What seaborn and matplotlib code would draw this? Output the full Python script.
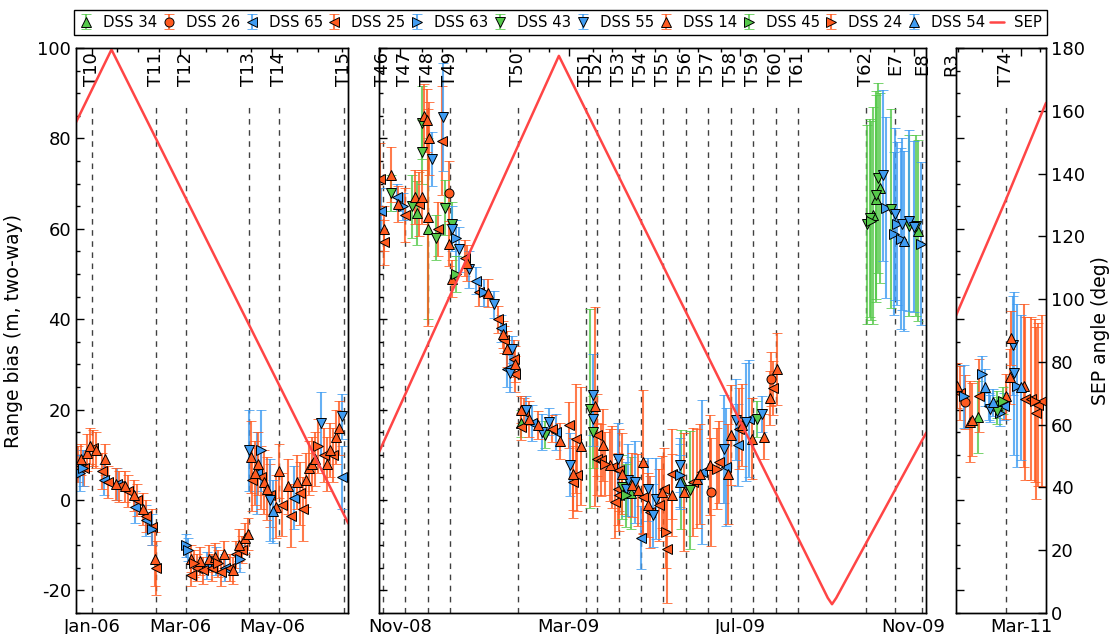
import numpy as np
import pandas as pd
import matplotlib
matplotlib.use("Agg")
import matplotlib.pyplot as plt
import matplotlib.dates as mdates
import matplotlib.transforms as mtransforms
from matplotlib.ticker import MultipleLocator, FixedLocator
import seaborn as sns

sns.set_style("white")
plt.rcParams.update({
    "font.family": ["DejaVu Sans"],
    "axes.unicode_minus": False,
    "xtick.direction": "in", "ytick.direction": "in",
    "axes.edgecolor": "black", "axes.linewidth": 1.0,
    "xtick.color": "black", "ytick.color": "black",
    "text.color": "black", "axes.labelcolor": "black",
})

# ------------------------------------------------------------------ data
# DSS 34 (green, triangle up)
dss34_dates = ['2008-11-27', '2008-12-05', '2009-02-09', '2009-04-28', '2009-06-03',
               '2009-10-17', '2009-10-19', '2009-10-22', '2009-11-18', '2011-01-29', '2011-02-12']
dss34_bias = [63.5, 60.0, 17.0, 1.5, 4.5, 63.0, 66.7, 69.1, 59.6, 18.4, 21.1]
dss34_err = [7, 20, 3, 8, 11, 24, 23, 21, 20, 8, 3]

# DSS 26 (orange, circle)
dss26_dates = ['2008-12-20', '2009-06-24', '2009-08-06', '2011-01-20']
dss26_bias = [68.0, 1.8, 26.7, 21.6]
dss26_err = [7, 12, 6, 6]

# DSS 65 (blue, triangle left)
dss65_dates = ['2006-01-23', '2006-02-01', '2006-02-13', '2006-02-20', '2006-04-02', '2006-04-14',
               '2006-05-05', '2006-05-30', '2006-07-01',
               '2008-11-02', '2008-11-13', '2009-01-08', '2009-01-26', '2009-01-30', '2009-02-17',
               '2009-03-06', '2009-05-05', '2009-06-18', '2009-07-05', '2009-07-13', '2009-07-21',
               '2011-02-06', '2011-02-17']
dss65_bias = [4.5, 3.5, -1.5, -4.5, -14.5, -15.0, 6.0, 0.5, 5.0,
              64.0, 67.0, 48.5, 38.0, 29.0, 17.0, 15.1, -8.3, 6.2, 7.3, 12.2, 18.0,
              20.7, 20.7]
dss65_err = [3.5, 3.5, 3.5, 3.5, 3, 3, 9, 7, 7,
             5, 3, 3, 3, 4, 4, 4, 7, 16, 13, 9, 13,
             3, 3]

# DSS 25 (orange, triangle left)
dss25_dates = ['2006-01-06', '2006-01-10', '2006-01-16', '2006-01-22', '2006-01-26', '2006-02-02',
               '2006-02-08', '2006-02-14', '2006-02-20', '2006-02-24', '2006-02-27', '2006-03-22',
               '2006-03-26', '2006-03-30', '2006-04-05', '2006-04-11', '2006-04-17', '2006-04-21',
               '2006-04-25', '2006-05-02', '2006-05-08', '2006-05-14', '2006-05-22', '2006-05-28',
               '2006-06-03', '2006-06-05', '2006-06-19', '2006-06-25',
               '2008-11-01', '2008-11-04', '2008-11-19', '2008-11-29', '2008-12-12', '2008-12-15',
               '2008-12-31', '2009-01-10', '2009-01-24', '2009-01-28', '2009-02-04', '2009-02-05',
               '2009-02-09', '2009-02-11', '2009-03-03', '2009-03-15', '2009-03-18', '2009-03-20',
               '2009-03-21', '2009-04-04', '2009-04-04', '2009-04-07', '2009-04-15', '2009-04-17',
               '2009-04-19', '2009-04-20', '2009-04-20', '2009-05-07', '2009-05-12', '2009-05-18',
               '2009-05-22', '2009-05-24', '2009-05-27', '2009-06-11', '2009-06-30', '2009-07-14',
               '2009-08-07',
               '2011-01-16', '2011-01-30', '2011-03-04', '2011-03-08', '2011-03-12', '2011-03-13',
               '2011-03-16']
dss25_bias = [8.0, 7.0, 11.5, 6.5, 4.0, 3.0, 2.0, 0.0, -3.5, -6.0, -15.0, -16.5,
              -15.0, -15.5, -15.0, -16.0, -15.0, -12.0, -11.0, 4.5, 5.0, 1.0, -1.0, -3.5,
              1.5, -2.0, 10.0, 10.0,
              71.0, 57.0, 63.0, 65.5, 60.0, 79.5, 53.5, 46.0, 40.0, 35.5, 31.3, 27.8,
              16.2, 19.5, 15.8, 16.6, 4.0, 13.6, 5.5, 14.4, 9.0, 8.8, 7.3, -0.4,
              2.4, 6.6, 1.1, 0.6, -2.7, -1.1, 2.4, -10.8, 5.8, 4.0, 8.4, 15.8, 24.7,
              23.6, 23.1, 22.4, 22.4, 19.3, 21.1, 22.0]
dss25_err = [4, 4, 4, 4, 3.5, 3.5, 3.5, 3.5, 3.5, 4, 6, 2.5,
             3, 3, 3, 3, 3, 3, 3, 7, 7, 7, 7, 7,
             7, 7, 6, 6,
             8, 5, 6, 7, 6, 12, 4, 3, 3, 3, 4, 4,
             3, 3, 3, 5, 8, 12, 8, 9, 8, 8, 9, 8,
             8, 9, 8, 8, 8, 8, 9, 12, 10, 12, 9, 9, 6,
             6, 8, 18, 18, 19, 18, 19]

# DSS 63 (blue, triangle right)
dss63_dates = ['2006-01-07', '2006-01-09', '2006-02-24', '2006-03-19', '2006-03-20', '2006-04-08',
               '2006-04-24', '2006-05-08',
               '2008-11-17', '2008-12-25', '2009-01-14', '2009-06-02', '2009-10-26', '2009-11-01',
               '2009-11-03', '2009-11-06', '2009-11-20',
               '2011-01-19', '2011-02-01', '2011-02-14', '2011-02-26']
dss63_bias = [6.0, 7.0, -6.5, -10.0, -11.0, -13.5, -13.0, 11.0,
              65.0, 58.0, 46.0, 5.5, 64.7, 58.9, 61.1, 57.8, 56.7,
              22.9, 27.8, 19.3, 25.3]
dss63_err = [4, 4, 3.5, 2.5, 2.5, 3, 3, 9,
             3, 4, 3, 7, 20, 18, 18, 20, 18,
             7, 4, 3, 18]

# DSS 43 (green, triangle down)
dss43_dates = ['2008-11-09', '2008-11-24', '2008-12-01', '2008-12-01', '2008-12-11', '2008-12-17',
               '2008-12-22', '2009-02-26', '2009-03-30', '2009-04-01', '2009-04-22', '2009-06-09',
               '2009-07-27', '2009-10-13', '2009-10-15', '2009-10-19', '2009-10-21', '2009-10-30',
               '2009-11-12', '2009-11-17', '2011-02-12']
dss43_bias = [68.0, 65.0, 83.5, 77.0, 58.0, 64.7, 61.0, 14.4, 20.2, 15.0, 2.9, 2.2,
              18.0, 61.0, 62.4, 67.5, 71.3, 64.4, 60.7, 60.7, 19.8]
dss43_err = [4, 7, 8, 7, 5, 6, 5, 3, 22, 8, 7, 13,
             4, 22, 22, 23, 21, 22, 20, 20, 3]

# DSS 55 (blue, triangle down)
dss55_dates = ['2006-04-30', '2006-05-14', '2006-06-17', '2006-07-01',
               '2008-12-08', '2008-12-16', '2008-12-22', '2008-12-27', '2009-01-03', '2009-01-21',
               '2009-02-01', '2009-02-03', '2009-02-13', '2009-02-24', '2009-03-01', '2009-03-16',
               '2009-04-01', '2009-04-01', '2009-04-19', '2009-04-25', '2009-04-26', '2009-05-01',
               '2009-05-10', '2009-05-14', '2009-05-16', '2009-06-02', '2009-07-03', '2009-07-12',
               '2009-07-19', '2009-07-30', '2009-10-24', '2009-11-02', '2009-11-07', '2009-11-12',
               '2009-11-15',
               '2011-02-07', '2011-02-23', '2011-02-24']
dss55_bias = [11.0, 0.0, 17.0, 18.5,
              75.5, 84.7, 60.0, 55.5, 51.0, 43.3, 28.0, 33.3, 20.0, 15.0, 17.3, 7.8,
              23.3, 18.0, 9.0, 2.4, 4.4, 4.0, 2.4, -3.4, 0.3, 7.7, 11.3, 17.8,
              17.3, 19.0, 71.8, 63.3, 61.1, 61.8, 60.5,
              20.2, 34.2, 28.0]
dss55_err = [9, 9, 7, 5,
             6, 12, 5, 5, 4, 3, 4, 3, 3, 4, 3, 7,
             9, 6, 8, 6, 8, 9, 7, 7, 9, 6, 12, 9,
             13, 4, 19, 19, 19, 20, 19,
             3, 11, 18]

# DSS 14 (orange, triangle up)
dss14_dates = ['2006-01-08', '2006-01-12', '2006-01-14', '2006-01-18', '2006-01-24', '2006-01-31',
               '2006-02-06', '2006-02-12', '2006-02-18', '2006-02-26', '2006-03-22', '2006-03-28',
               '2006-04-03', '2006-04-07', '2006-04-13', '2006-04-19', '2006-04-23', '2006-04-27',
               '2006-04-29', '2006-05-01', '2006-05-04', '2006-05-06', '2006-05-10', '2006-05-12',
               '2006-05-18', '2006-05-20', '2006-05-26', '2006-06-01', '2006-06-07', '2006-06-09',
               '2006-06-11', '2006-06-13', '2006-06-21', '2006-06-23', '2006-06-27', '2006-06-29',
               '2008-11-04', '2008-11-09', '2008-11-14', '2008-11-26', '2008-12-01', '2008-12-02',
               '2008-12-04', '2008-12-05', '2008-12-06', '2008-12-20', '2008-12-22', '2009-01-02',
               '2009-01-17', '2009-01-27', '2009-01-30', '2009-02-05', '2009-02-09', '2009-02-15',
               '2009-02-21', '2009-03-09', '2009-03-18', '2009-03-24', '2009-04-03', '2009-04-08',
               '2009-04-13', '2009-04-22', '2009-04-29', '2009-05-03', '2009-05-07', '2009-05-10',
               '2009-05-20', '2009-05-27', '2009-06-05', '2009-06-14', '2009-06-16', '2009-06-23',
               '2009-07-06', '2009-07-08', '2009-07-16', '2009-07-23', '2009-08-01', '2009-08-05',
               '2009-08-10',
               '2011-01-14', '2011-01-23', '2011-01-25', '2011-02-18', '2011-02-21', '2011-02-22',
               '2011-03-03']
dss14_bias = [9.0, 10.5, 12.0, 11.0, 9.0, 3.5, 3.0, 1.0, -2.0, -13.0, -13.0, -13.5,
              -13.0, -12.5, -12.0, -15.5, -10.0, -8.5, -7.5, 9.5, 6.0, 8.0, 4.0, 2.5,
              -1.5, 6.5, 3.0, 4.0, 4.5, 7.0, 8.0, 9.0, 8.0, 11.0, 14.0, 16.0,
              60.0, 72.0, 65.5, 67.0, 67.0, 85.0, 84.0, 62.5, 80.0, 56.7, 49.0, 52.5,
              45.8, 36.7, 33.5, 30.0, 20.0, 18.0, 16.6, 13.0, 5.8, 12.0, 20.7, 12.2,
              7.7, 5.8, 3.3, 2.2, 8.4, -1.1, 1.8, 1.1, 1.8, 4.7, 5.8, 7.7,
              5.8, 14.4, 16.6, 13.6, 14.0, 22.5, 29.0,
              25.3, 17.3, 17.8, 22.9, 27.3, 35.8, 25.3]
dss14_err = [3.5, 4, 4, 4, 3.5, 3.5, 3.5, 3.5, 3.5, 6, 3, 3,
             3, 3, 3, 3, 3.5, 3.5, 3.5, 8, 7, 7, 7, 7,
             7, 6, 6, 6, 6, 6, 6, 6, 6, 6, 6, 6,
             5, 6, 4, 6, 6, 7, 7, 24, 8, 5, 4, 4,
             3, 3, 4, 4, 3, 4, 3, 4, 8, 13, 22, 8,
             8, 9, 7, 8, 16, 7, 8, 9, 13, 11, 11, 11,
             11, 11, 9, 9, 5, 6, 8,
             5, 9, 8, 5, 6, 6, 18]

# DSS 45 (green, triangle right)
dss45_dates = ['2008-12-25', '2009-04-25', '2009-10-16', '2011-02-16']
dss45_bias = [50.0, 1.0, 61.8, 22.0]
dss45_err = [4, 7, 22, 3]

# DSS 24 (orange, triangle right)
dss24_dates = ['2006-03-24', '2006-04-09', '2006-06-15', '2009-04-10', '2009-05-23', '2009-06-28',
               '2011-03-11']
dss24_bias = [-14.0, -14.0, 12.0, 8.0, -7.0, 6.9, 22.0]
dss24_err = [3, 3, 6, 7, 8, 9, 18]

# DSS 54 (blue, triangle up)
dss54_dates = ['2006-05-16', '2009-06-02', '2009-11-08', '2011-02-03', '2011-02-09', '2011-03-01']
dss54_bias = [-2.5, 4.0, 57.3, 24.9, 21.6, 24.9]
dss54_err = [7, 6, 20, 4, 3, 16]

# Sun-Earth-Probe angle (deg)
sep_dates = ['2006-01-04', '2006-01-28', '2006-07-05',
             '2008-10-31', '2009-03-08', '2009-09-15', '2009-09-18', '2009-09-21', '2009-11-24',
             '2011-01-13', '2011-02-18', '2011-03-19']
sep_vals = [156.0, 179.5, 28.5,
            51.0, 177.5, 4.8, 2.8, 4.8, 57.5,
            94.5, 131.5, 162.5]

# event markers (flybys)
ev1_names = ['T10', 'T11', 'T12', 'T13', 'T14', 'T15']
ev1_dates = ['2006-01-15', '2006-02-27', '2006-03-19', '2006-04-30', '2006-05-20', '2006-07-02']
ev2_names = ['T46', 'T47', 'T48', 'T49', 'T50', 'T51', 'T52', 'T53', 'T54', 'T55', 'T56',
             'T57', 'T58', 'T59', 'T60', 'T61', 'T62', 'E7', 'E8']
ev2_dates = ['2008-11-03', '2008-11-19', '2008-12-05', '2008-12-21', '2009-02-07', '2009-03-27',
             '2009-04-04', '2009-04-20', '2009-05-05', '2009-05-21', '2009-06-06', '2009-06-22',
             '2009-07-08', '2009-07-24', '2009-08-09', '2009-08-25', '2009-10-12', '2009-11-02',
             '2009-11-21']
ev3_names = ['R3', 'T74']
ev3_dates = ['2011-01-10', '2011-02-18']

# tick label positions
ticks1 = ['2006-01-15', '2006-03-15', '2006-05-15']
ticks2 = ['2008-11-15', '2009-03-15', '2009-07-15', '2009-11-15']
ticks3 = ['2011-03-01']

# ------------------------------------------------------------------ style
GREEN, ORANGE, BLUE = "#55C94A", "#FF5A1F", "#3F9CF2"
SEPC = "#FF4545"
stations = [
    ("DSS 34", dss34_dates, dss34_bias, dss34_err, "^", GREEN),
    ("DSS 26", dss26_dates, dss26_bias, dss26_err, "o", ORANGE),
    ("DSS 65", dss65_dates, dss65_bias, dss65_err, "<", BLUE),
    ("DSS 25", dss25_dates, dss25_bias, dss25_err, "<", ORANGE),
    ("DSS 63", dss63_dates, dss63_bias, dss63_err, ">", BLUE),
    ("DSS 43", dss43_dates, dss43_bias, dss43_err, "v", GREEN),
    ("DSS 55", dss55_dates, dss55_bias, dss55_err, "v", BLUE),
    ("DSS 14", dss14_dates, dss14_bias, dss14_err, "^", ORANGE),
    ("DSS 45", dss45_dates, dss45_bias, dss45_err, ">", GREEN),
    ("DSS 24", dss24_dates, dss24_bias, dss24_err, ">", ORANGE),
    ("DSS 54", dss54_dates, dss54_bias, dss54_err, "^", BLUE),
]

W, H = 1115, 634
fig = plt.figure(figsize=(W / 100, H / 100), dpi=100)
bot, hgt = 21 / H, 565 / H
ax1 = fig.add_axes([76 / W, bot, 272 / W, hgt])
ax2 = fig.add_axes([379 / W, bot, 547 / W, hgt])
ax3 = fig.add_axes([956 / W, bot, 90 / W, hgt])
axes = [ax1, ax2, ax3]
lims = [(pd.Timestamp('2006-01-04 08:00'), pd.Timestamp('2006-07-04 18:00')),
        (pd.Timestamp('2008-10-31 06:00'), pd.Timestamp('2009-11-23 18:00')),
        (pd.Timestamp('2011-01-13 06:00'), pd.Timestamp('2011-03-19'))]
tick_sets = [ticks1, ticks2, ticks3]
events = [(ev1_names, ev1_dates), (ev2_names, ev2_dates), (ev3_names, ev3_dates)]

# data
for ax in axes:
    for name, d, b, e, mk, col in stations:
        eb = ax.errorbar(pd.to_datetime(d), b, yerr=e, fmt=mk, color=col, mfc=col,
                         mec="black", mew=0.7, ms=6.5, ecolor=col, elinewidth=1.5,
                         capsize=3.5, capthick=1.4, label=name)
        eb.lines[0].set_zorder(3)
        for c in eb.lines[1]:
            c.set_alpha(0.8)
        for c in eb.lines[2]:
            c.set_alpha(0.8)

sep_df = pd.DataFrame({"date": pd.to_datetime(sep_dates), "sep": sep_vals})
twins = []
for i, (ax, (lo, hi), tks, (enames, edates)) in enumerate(zip(axes, lims, tick_sets, events)):
    ax.set_xlim(lo, hi)
    ax.set_ylim(-25, 100)
    ax.yaxis.set_major_locator(MultipleLocator(20))
    ax.yaxis.set_minor_locator(MultipleLocator(5))
    ax.xaxis.set_major_locator(FixedLocator(mdates.date2num(pd.to_datetime(tks).to_pydatetime())))
    ax.xaxis.set_major_formatter(mdates.DateFormatter('%b-%y'))
    ax.xaxis.set_minor_locator(mdates.DayLocator(bymonthday=[1, 15]))
    ax.tick_params(which='both', direction='in', top=True, left=True, right=(i < 2),
                   labelleft=(i == 0), labelsize=13, width=1)
    ax.tick_params(which='major', length=6)
    ax.tick_params(which='minor', length=3)
    ax.set_xlabel('')
    trans = mtransforms.blended_transform_factory(ax.transData, ax.transAxes)
    for n, d in zip(enames, edates):
        x = mdates.date2num(pd.Timestamp(d).to_pydatetime())
        ax.axvline(x, ymin=0, ymax=0.905, color='k', lw=1.0, ls=(0, (4, 4)), alpha=0.75, zorder=1)
        ax.text(x, 0.993, n, transform=trans, rotation=90, ha='center', va='top',
                fontsize=13, clip_on=False)

    t = ax.twinx()
    sub = sep_df[(sep_df.date >= lo - pd.Timedelta(days=5)) & (sep_df.date <= hi + pd.Timedelta(days=5))]
    sns.lineplot(data=sub, x="date", y="sep", ax=t, color=SEPC, lw=1.8,
                 estimator=None, sort=False, label="SEP", legend=False)
    t.set_ylim(0, 180)
    t.set_xlim(lo, hi)
    t.set_xlabel('')
    if i < 2:
        t.set_yticks([])
        t.set_ylabel('')
    else:
        t.yaxis.set_major_locator(MultipleLocator(20))
        t.tick_params(direction='in', labelsize=13, length=6, width=1, right=True)
        t.set_ylabel('SEP angle (deg)', fontsize=13.5)
    twins.append(t)

ax1.set_ylabel('Range bias (m, two-way)', fontsize=13.5, labelpad=10)

handles, labels = ax1.get_legend_handles_labels()
sep_line = twins[0].lines[-1]
handles.append(sep_line)
labels.append("SEP")
leg = fig.legend(handles, labels, loc='lower left',
                 bbox_to_anchor=(74 / W, 1 - 35 / H, 973 / W, 28 / H), mode='expand',
                 ncol=12, fontsize=10.7, frameon=True, fancybox=False, edgecolor='black',
                 framealpha=1, handlelength=0.9, handletextpad=0.7, borderaxespad=0,
                 borderpad=0.35, columnspacing=0.5)
leg.get_frame().set_linewidth(1.0)

fig.savefig('out.png', dpi=100)
